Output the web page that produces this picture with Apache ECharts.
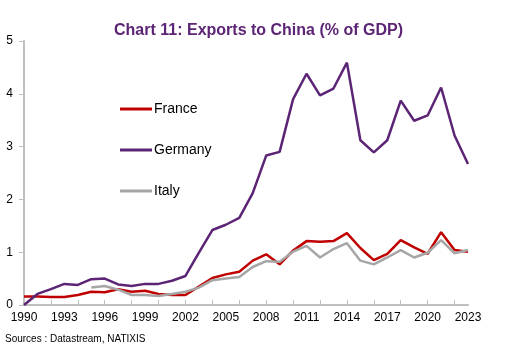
<!DOCTYPE html>
<html>
<head>
<meta charset="utf-8">
<script src="https://cdn.jsdelivr.net/npm/echarts@6/dist/echarts.min.js"></script>
<style>
	html, body { margin: 0; padding: 0; background: #fff; }
	#chart { width: 517px; height: 350px; }
</style>
</head>
<body>
<div id="chart"></div>
<script>
const years = []
for (let y = 1990; y <= 2023; y++) years.push(String(y))

const france = [0.16, 0.16, 0.15, 0.15, 0.19, 0.25, 0.24, 0.30, 0.25, 0.27, 0.21, 0.19, 0.19, 0.35, 0.51, 0.58, 0.63, 0.84,
	0.96, 0.77, 1.03, 1.21, 1.20, 1.21, 1.36, 1.08, 0.85, 0.97, 1.23, 1.09, 0.97, 1.38, 1.04, 1.01]
const germany = [0.00, 0.21, 0.30, 0.40, 0.38, 0.49, 0.50, 0.39, 0.36, 0.40, 0.40, 0.46, 0.55, 0.99, 1.42, 1.52, 1.65, 2.12,
	2.83, 2.90, 3.90, 4.38, 3.97, 4.10, 4.59, 3.12, 2.89, 3.12, 3.87, 3.49, 3.59, 4.12, 3.21, 2.67]
const italy = [null, null, null, null, null, 0.33, 0.36, 0.29, 0.19, 0.19, 0.17, 0.21, 0.25, 0.33, 0.47, 0.50, 0.53, 0.72,
	0.83, 0.82, 1.01, 1.12, 0.90, 1.06, 1.17, 0.84, 0.77, 0.90, 1.04, 0.90, 0.99, 1.23, 0.98, 1.04]

const node = document.getElementById('chart')
const myChart = echarts.init(node)

const font = 'Liberation Sans, Arial, sans-serif'
const axisGrey = '#bfbfbf'

const line = (name, data, color) => ({
	name,
	type: 'line',
	data,
	symbol: 'none',
	lineStyle: { color, width: 2.5 },
	itemStyle: { color },
	emphasis: { disabled: true }
})

const option = {
	animation: false,
	title: {
		text: 'Chart 11: Exports to China (% of GDP)',
		left: 'center',
		top: 18,
		textStyle: {
			fontFamily: font,
			fontWeight: 'bold',
			fontSize: 16,
			color: '#5c2474'
		}
	},
	legend: {
		orient: 'vertical',
		left: 115,
		top: 97,
		itemWidth: 32,
		itemHeight: 3,
		itemGap: 27,
		icon: 'rect',
		textStyle: { fontFamily: font, fontSize: 14, color: '#000', padding: [0, 0, 0, -3] },
		data: ['France', 'Germany', 'Italy']
	},
	grid: { left: 24, right: 49, top: 41, bottom: 45, containLabel: false },
	xAxis: {
		type: 'category',
		boundaryGap: false,
		data: years,
		axisLine: { lineStyle: { color: axisGrey, width: 2 } },
		axisTick: { inside: true, interval: 1, length: 5, lineStyle: { color: axisGrey } },
		axisLabel: { interval: 2, color: '#000', fontFamily: font, fontSize: 12, margin: 7 },
		splitLine: { show: false }
	},
	yAxis: {
		type: 'value',
		min: 0,
		max: 5,
		interval: 1,
		axisLine: { show: true, lineStyle: { color: axisGrey, width: 2 } },
		axisTick: { show: true, length: 5, lineStyle: { color: axisGrey } },
		axisLabel: { color: '#000', fontFamily: font, fontSize: 12, margin: 11 },
		splitLine: { show: false }
	},
	graphic: [{
		type: 'text',
		left: 5,
		top: 334,
		style: { text: 'Sources : Datastream, NATIXIS', font: '10px ' + font, fill: '#000' }
	}],
	series: [
		line('France', france, '#c00000'),
		line('Germany', germany, '#5c2474'),
		line('Italy', italy, '#a6a6a6')
	]
}

myChart.setOption(option)
</script>
</body>
</html>
